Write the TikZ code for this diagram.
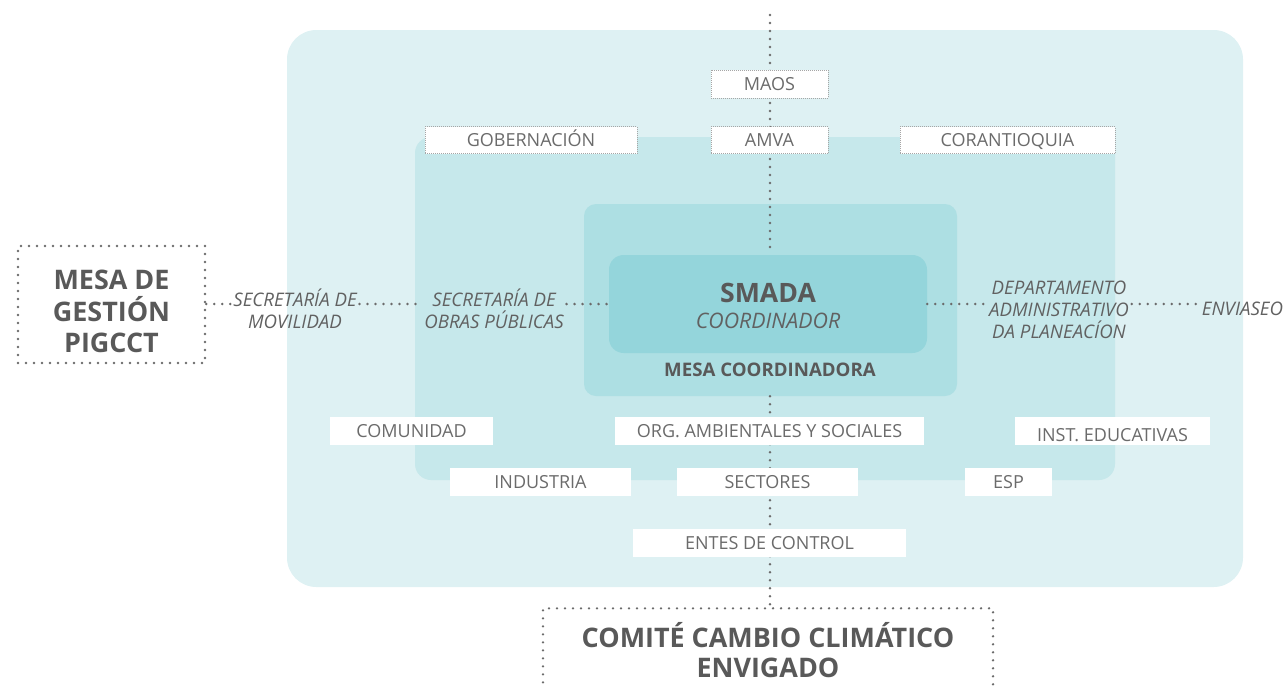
\documentclass[tikz,border=0pt]{standalone}
\usepackage{fontspec}
\setmainfont{Open Sans}
\begin{document}
\begin{tikzpicture}[x=0.75pt,y=-0.75pt,
  px/.style 2 args={minimum width=#1*0.75pt, minimum height=#2*0.75pt},
  dotline/.style={draw=black!58, line width=2.1pt, line cap=round, dash pattern=on 0pt off 6pt},
  wbox/.style={fill=white, inner sep=0pt, text=black!58, text height=10pt, text depth=0pt, font=\fontsize{13.5}{16}\selectfont},
  wboxd/.style={wbox, draw=black!35, densely dotted, line width=0.5pt},
  ital/.style={text=black!62, font=\fontsize{14}{16.5}\selectfont\itshape, align=center, inner sep=2pt},
  bigbox/.style={draw=black!58, line width=2pt, line cap=round, dash pattern=on 0pt off 6pt, text=black!65, font=\fontsize{20.2}{23.5}\selectfont\bfseries, align=center}
]
\definecolor{cOuter}{HTML}{DEF1F3}
\definecolor{cMid}{HTML}{C6E8EB}
\definecolor{cInner}{HTML}{ADDFE3}
\definecolor{cCore}{HTML}{94D5DB}
\useasboundingbox (0,0) rectangle (1284,686);
% backgrounds
\fill[cOuter, rounded corners=22pt] (287,30) rectangle (1243,587);
\fill[cMid, rounded corners=12pt] (415,137) rectangle (1115,480);
\node[fill=cInner, rounded corners=9pt, px={373}{192}, inner sep=0pt] (mesac) at (770.5,300) {};
\node[fill=cCore, rounded corners=11pt, px={318}{98}, inner sep=0pt] (smada) at (768,304) {};
\node[text=black!65, font=\fontsize{20}{22}\selectfont\bfseries] at (768,293) {SMADA};
\node[text=black!62, font=\fontsize{16}{18}\selectfont\itshape] at (768,321) {COORDINADOR};
\node[text=black!65, font=\fontsize{14}{16}\selectfont\bfseries] at (770,370) {MESA COORDINADORA};
% outer boxes and labels
\coordinate (top) at (770,15);
\node[bigbox, px={187}{117}] (mesa) at (111.5,304.5) {\rule{0pt}{25pt}MESA DE\\GESTIÓN\\PIGCCT};
\node[bigbox, px={450}{90}, anchor=north] (comite) at (768,607) {COMITÉ CAMBIO CLIMÁTICO\\[-1pt]ENVIGADO\rule[-4.5pt]{0pt}{1pt}};
\node[ital] (secmov) at (295,309) {SECRETARÍA DE\\MOVILIDAD};
\node[ital] (secobras) at (494,309) {SECRETARÍA DE\\OBRAS PÚBLICAS};
\node[ital] (dap) at (1059,310) {DEPARTAMENTO\\ADMINISTRATIVO\\DA PLANEACÍON};
\node[ital, anchor=west] (enviaseo) at (1199,309) {ENVIASEO};
% connectors (drawn before white boxes)
\draw[dotline] (top) -- (smada.north -| top);
\draw[dotline] (mesac.south -| top) -- (comite.north -| top);
\draw[dotline] (mesa.east |- smada.west) -- (secmov.west |- smada.west);
\draw[dotline] (secmov.east |- smada.west) -- (secobras.west |- smada.west);
\draw[dotline] (secobras.east |- smada.west) -- (smada.west);
\draw[dotline] (smada.east) -- (dap.west |- smada.east);
\draw[dotline] (dap.east |- smada.east) -- (enviaseo.west |- smada.east);
% white boxes
\node[wboxd, px={117}{28}] (maos) at (769.5,84) {MAOS};
\node[wboxd, px={212}{27}] (gob) at (531,140) {GOBERNACIÓN};
\node[wboxd, px={117}{27}] (amva) at (769.5,140) {AMVA};
\node[wboxd, px={215}{27}] (coran) at (1007.5,140) {CORANTIOQUIA};
\node[wbox, px={163}{28}] (comu) at (411.5,431) {COMUNIDAD};
\node[wbox, px={309}{28}] (org) at (769.5,431) {ORG. AMBIENTALES Y SOCIALES};
\node[wbox, px={195}{28}, text height=16pt] (inst) at (1112.5,431) {INST. EDUCATIVAS};
\node[wbox, px={181}{28}] (indu) at (540.5,482) {INDUSTRIA};
\node[wbox, px={181}{28}] (sect) at (767.5,482) {SECTORES};
\node[wbox, px={87}{28}] (esp) at (1008.5,482) {ESP};
\node[wbox, px={273}{28}] (entes) at (769.5,543) {ENTES DE CONTROL};
\end{tikzpicture}
\end{document}
